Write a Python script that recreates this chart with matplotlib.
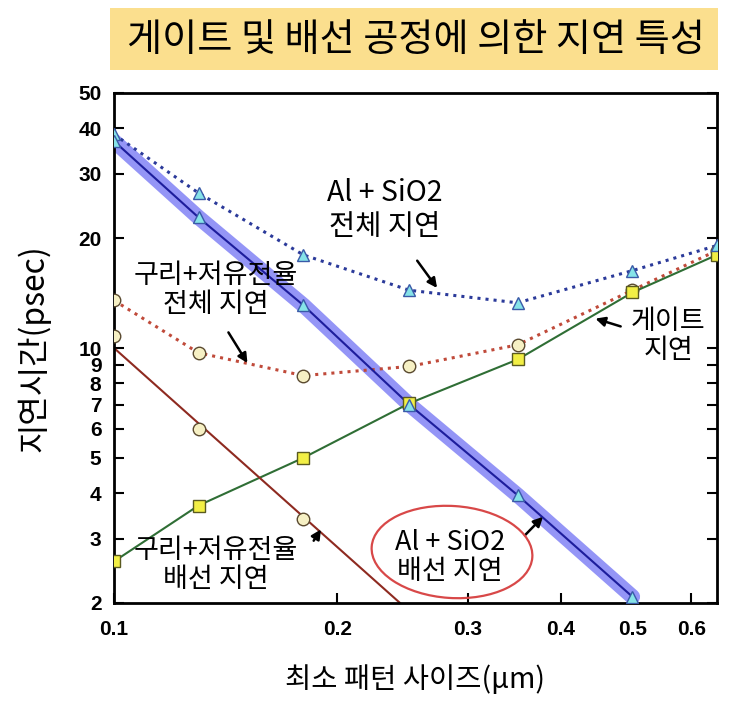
import numpy as np
import matplotlib
matplotlib.use('Agg')
import matplotlib.pyplot as plt
from matplotlib.patches import Ellipse, FancyBboxPatch

plt.rcParams['font.family'] = ['Noto Sans CJK KR', 'DejaVu Sans']

# minimum pattern size (um)
size = [0.1, 0.13, 0.18, 0.25, 0.35, 0.5, 0.65]

# delay (psec)
al_total = [38.5, 26.6, 18.0, 14.4, 13.3, 16.3, 19.1]
al_wire = [36.9, 22.8, 13.1, 7.0, 3.95, 2.08]
cu_total = [13.5, 9.7, 8.4, 8.9, 10.2, 14.4, 18.5]
cu_wire_pts = [10.8, 6.0, 3.4]
cu_wire_line_x = [0.1, 0.243]
cu_wire_line_y = [10.0, 2.0]
gate = [2.6, 3.7, 5.0, 7.05, 9.3, 14.2, 18.0]

xticks = [0.1, 0.2, 0.3, 0.4, 0.5, 0.6]
yticks = [2, 3, 4, 5, 6, 7, 8, 9, 10, 20, 30, 40, 50]

fig = plt.figure(figsize=(7.38, 7.10), dpi=100, facecolor='white')
ax = fig.add_axes([114/738, 1-603/710, (717-114)/738, (603-93)/710])
ax.set_xscale('log')
ax.set_yscale('log')

# highlight band over the Al + SiO2 wiring delay
ax.plot(size[:6], al_wire, color='#5b5cf2', alpha=0.65, lw=11,
        solid_capstyle='round', solid_joinstyle='round', zorder=1)

# lines
ax.plot(size, al_total, ':', color='#2b3a9a', lw=2.2, zorder=2)
ax.plot(size, cu_total, ':', color='#c04a3a', lw=2.2, zorder=2)
ax.plot(size, gate, '-', color='#2f6e35', lw=1.5, zorder=2)
ax.plot(size[:6], al_wire, '-', color='#1d1d9c', lw=1.5, zorder=2)
ax.plot(cu_wire_line_x, cu_wire_line_y, '-', color='#8e2a20', lw=1.5, zorder=2)

# markers
ax.plot(size, al_total, '^', ms=9, mfc='#86e3e8', mec='#3a5aa8', mew=1, ls='none', zorder=4)
ax.plot(size[:6], al_wire, '^', ms=9, mfc='#86e3e8', mec='#3a5aa8', mew=1, ls='none', zorder=4)
ax.plot(size, cu_total, 'o', ms=9, mfc='#f6f0c4', mec='#5a4a30', mew=1, ls='none', zorder=3)
ax.plot(size[:3], cu_wire_pts, 'o', ms=9, mfc='#f6f0c4', mec='#5a4a30', mew=1, ls='none', zorder=3)
ax.plot(size, gate, 's', ms=9, mfc='#f2ef45', mec='#5a5a20', mew=1, ls='none', zorder=3)

ax.set_xlim(0.1, 0.65)
ax.set_ylim(2, 50)
ax.set_xticks(xticks)
ax.set_xticklabels([str(v) for v in xticks])
ax.set_yticks(yticks)
ax.set_yticklabels([str(v) for v in yticks])
ax.minorticks_off()
ax.tick_params(direction='in', length=7, width=1.5, right=True, top=False,
               labelsize=15)
ax.tick_params(axis='y', pad=9)
ax.tick_params(axis='x', pad=12)
for lab in ax.get_xticklabels() + ax.get_yticklabels():
    lab.set_family('Liberation Sans')
    lab.set_fontweight('bold')
for s in ax.spines.values():
    s.set_linewidth(2)

ax.set_xlabel('최소 패턴 사이즈(μm)', fontsize=20.5, labelpad=19)
ax.set_ylabel('지연시간(psec)', fontsize=23, labelpad=20)

# annotations
arrow = dict(arrowstyle='-|>', color='black', lw=1.8, mutation_scale=14)
ax.annotate('', xy=(0.274, 14.4), xytext=(0.255, 17.6), arrowprops=arrow)
ax.annotate('', xy=(0.152, 8.96), xytext=(0.142, 11.2), arrowprops=arrow)
ax.annotate('', xy=(0.442, 12.1), xytext=(0.486, 11.4), arrowprops=arrow)
ax.annotate('', xy=(0.191, 3.23), xytext=(0.185, 2.92), arrowprops=arrow)
ax.annotate('', xy=(0.381, 3.49), xytext=(0.356, 3.03), arrowprops=arrow)

ax.text(0.232, 23.9, 'Al + SiO2\n전체 지연', fontsize=20.5, ha='center', va='center',
        linespacing=1.15)
ax.text(0.137, 14.4, '구리+저유전율\n전체 지연', fontsize=19.5, ha='center', va='center',
        linespacing=1.1)
ax.text(0.559, 10.8, '게이트\n지연', fontsize=19.5, ha='center', va='center',
        linespacing=1.1)
ax.text(0.137, 2.54, '구리+저유전율\n배선 지연', fontsize=19.5, ha='center', va='center',
        linespacing=1.1)
ax.text(0.284, 2.67, 'Al + SiO2\n배선 지연', fontsize=19.5, ha='center', va='center',
        linespacing=1.1)

fig.patches.append(Ellipse((452/738, 1-552/710), 161/738, 92/710, angle=-4,
                           transform=fig.transFigure, fill=False,
                           edgecolor='#d84848', lw=1.6))

# title box
fig.patches.append(FancyBboxPatch((110/738, 1-70/710), (718-110)/738, 62/710,
                                  boxstyle='square,pad=0', transform=fig.transFigure,
                                  facecolor='#fbdf8e', edgecolor='none'))
fig.text(416/738, 1-40/710, '게이트 및 배선 공정에 의한 지연 특성',
         fontsize=27.5, fontweight='medium', ha='center', va='center')

fig.savefig('out.png', dpi=100)
